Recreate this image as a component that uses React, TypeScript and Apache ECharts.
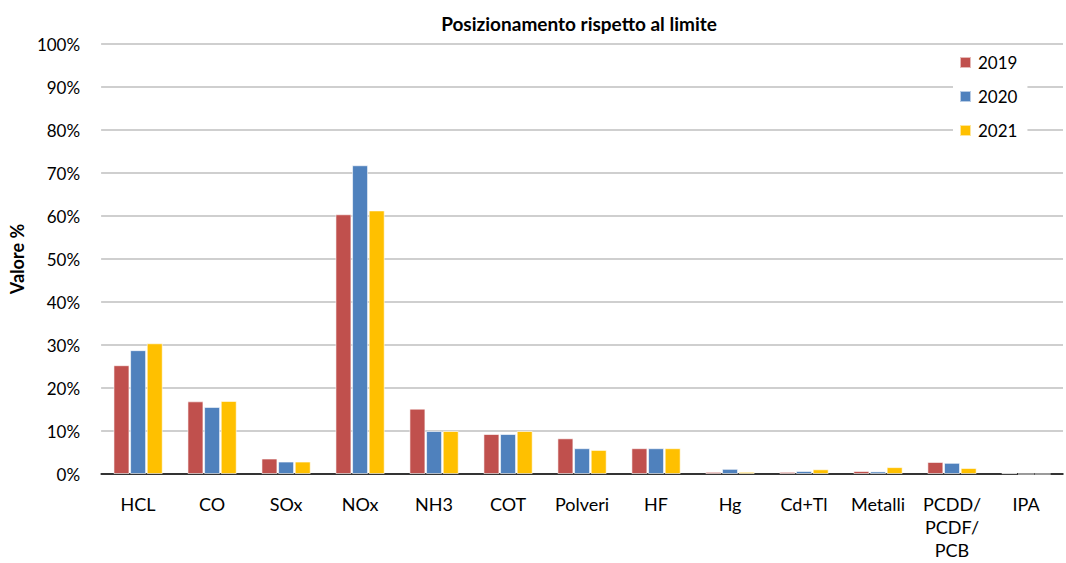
import React, { useEffect, useRef } from "react";
import * as echarts from "echarts";

const categories = ["HCL", "CO", "SOx", "NOx", "NH3", "COT", "Polveri", "HF", "Hg", "Cd+Tl", "Metalli", "PCDD/\nPCDF/\nPCB", "IPA"];
const values2019 = [25.3, 16.9, 3.6, 60.4, 15.2, 9.3, 8.3, 6.0, 0.5, 0.5, 0.7, 2.8, 0.2];
const values2020 = [28.8, 15.6, 2.9, 71.8, 10.0, 9.3, 6.0, 6.0, 1.2, 0.7, 0.6, 2.6, 0];
const values2021 = [30.4, 17.0, 2.9, 61.3, 10.0, 10.0, 5.6, 6.0, 0.5, 1.1, 1.6, 1.4, 0];
const seriesNames = ["2019", "2020", "2021"];
const colors = ["#C0504D", "#4F81BD", "#FFC000"];

const FONT = "Lato, 'Open Sans', sans-serif";

export default function App() {
  const ref = useRef<HTMLDivElement>(null);
  useEffect(() => {
    if (!ref.current) return;
    const chart = echarts.init(ref.current, null, { renderer: "svg" });
    const data = [values2019, values2020, values2021];
    chart.setOption({
      animation: false,
      backgroundColor: "#ffffff",
      title: {
        text: "Posizionamento rispetto al limite",
        left: 574,
        textAlign: "center",
        top: 9,
        textStyle: { fontFamily: FONT, fontSize: 19, fontWeight: "bold", color: "#000" },
      },
      legend: {
        orient: "vertical",
        left: 953,
        top: 50,
        itemWidth: 11,
        itemHeight: 11,
        itemGap: 17,
        icon: "rect",
        backgroundColor: "#ffffff",
        padding: [4, 10, 4, 6],
        textStyle: { fontFamily: FONT, fontSize: 17, color: "#000", padding: [0, 0, 0, 2] },
        data: seriesNames,
      },
      grid: { left: 97, right: 3, top: 44, bottom: 89, containLabel: false },
      xAxis: {
        type: "category",
        data: categories,
        axisLine: { lineStyle: { color: "#000", width: 1.5 } },
        axisTick: { show: false },
        axisLabel: { fontFamily: FONT, fontSize: 18, color: "#000", margin: 18, lineHeight: 23, interval: 0 },
      },
      yAxis: {
        type: "value",
        min: 0,
        max: 100,
        interval: 10,
        name: "Valore %",
        nameLocation: "middle",
        nameRotate: 90,
        nameGap: 74,
        nameTextStyle: { fontFamily: FONT, fontSize: 18, fontWeight: "bold", color: "#000" },
        axisLine: { show: false },
        axisTick: { show: false },
        axisLabel: { fontFamily: FONT, fontSize: 17, color: "#000", margin: 21, formatter: "{value}%" },
        splitLine: { lineStyle: { color: "#BFBFBF", width: 1.5 } },
      },
      series: seriesNames.map((name, i) => ({
        name,
        type: "bar",
        data: data[i],
        barWidth: 16,
        barGap: "4%",
        itemStyle: { color: colors[i], borderColor: "rgba(255,255,255,0.6)", borderWidth: 1 },
      })),
    });
    return () => chart.dispose();
  }, []);
  return <div ref={ref} style={{ position: "absolute", left: 0, top: 0, width: 1066, height: 563 }} />;
}
